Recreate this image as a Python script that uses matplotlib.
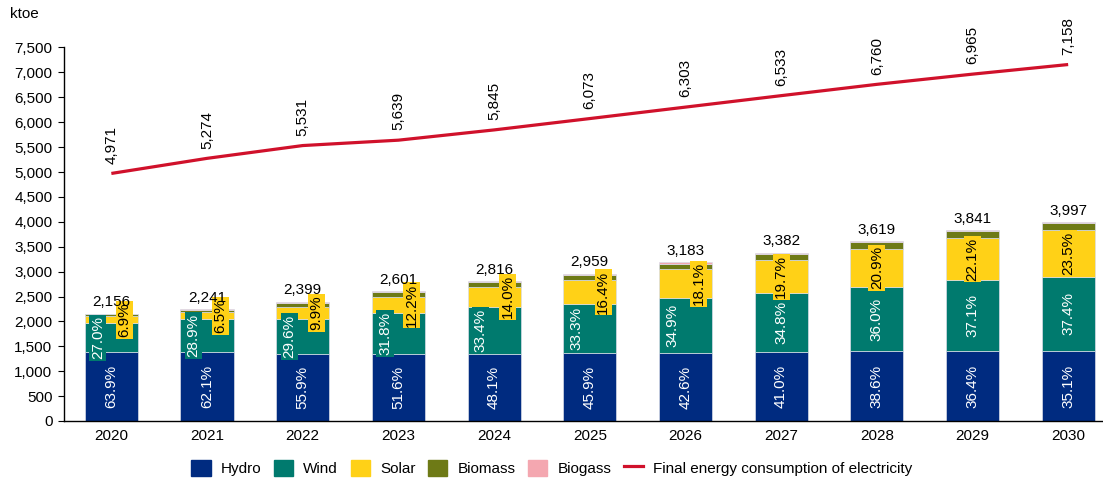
import numpy as np
import matplotlib.pyplot as plt
from matplotlib.patches import Patch
from matplotlib.lines import Line2D

plt.rcParams['font.family'] = ['Liberation Sans', 'DejaVu Sans']

# data (ktoe)
years = ["2020", "2021", "2022", "2023", "2024", "2025", "2026", "2027", "2028", "2029", "2030"]
hydro = [1378, 1392, 1341, 1342, 1354, 1358, 1356, 1387, 1397, 1398, 1403]
wind = [582, 648, 710, 827, 941, 985, 1111, 1177, 1303, 1425, 1495]
solar = [149, 146, 238, 317, 394, 485, 576, 666, 756, 849, 939]
biomass = [35, 40, 90, 95, 105, 108, 115, 125, 135, 140, 130]
biogas = [12, 15, 20, 20, 22, 23, 25, 27, 28, 29, 30]
totals = [2156, 2241, 2399, 2601, 2816, 2959, 3183, 3382, 3619, 3841, 3997]
hydro_pct = [63.9, 62.1, 55.9, 51.6, 48.1, 45.9, 42.6, 41.0, 38.6, 36.4, 35.1]
wind_pct = [27.0, 28.9, 29.6, 31.8, 33.4, 33.3, 34.9, 34.8, 36.0, 37.1, 37.4]
solar_pct = [6.9, 6.5, 9.9, 12.2, 14.0, 16.4, 18.1, 19.7, 20.9, 22.1, 23.5]
consumption = [4971, 5274, 5531, 5639, 5845, 6073, 6303, 6533, 6760, 6965, 7158]

c_hydro = "#002b80"
c_wind = "#007a6e"
c_solar = "#ffd117"
c_biomass = "#6e7a16"
c_biogas = "#f4a7b0"
c_line = "#d0112b"

fig = plt.figure(figsize=(11.03, 4.8), dpi=100)
ax = fig.add_axes([63.5 / 1103, 1 - 421 / 480, (1116 - 63.5) / 1103, (421 - 47.5) / 480])

x = np.arange(len(years))
w = 0.555
h = np.array(hydro)
wd = np.array(wind)
s = np.array(solar)
bm = np.array(biomass)
edge = dict(edgecolor="#d9dde8", linewidth=0.5)
ax.bar(x, h, w, color=c_hydro, **edge)
ax.bar(x, wd, w, bottom=h, color=c_wind, **edge)
ax.bar(x, s, w, bottom=h + wd, color=c_solar, **edge)
ax.bar(x, bm, w, bottom=h + wd + s, color=c_biomass, **edge)
ax.bar(x, biogas, w, bottom=h + wd + s + bm, color=c_biogas, **edge)
ax.plot(x, consumption, color=c_line, lw=2.3, solid_capstyle="butt")

fs = 11
for i in range(len(years)):
    # labels sit side by side while the bars are short
    off = 0.14 if i < 7 else 0.0
    ax.text(x[i], h[i] / 2, f"{hydro_pct[i]:.1f}%", rotation=90, ha="center", va="center",
            color="white", fontsize=fs)
    ax.text(x[i] - off, h[i] + wd[i] / 2, f"{wind_pct[i]:.1f}%", rotation=90, ha="center",
            va="center", color="white", fontsize=fs,
            bbox=dict(boxstyle="square,pad=0.1", fc=c_wind, ec="none"))
    ax.text(x[i] + off, h[i] + wd[i] + s[i] / 2, f"{solar_pct[i]:.1f}%", rotation=90, ha="center",
            va="center", color="black", fontsize=fs,
            bbox=dict(boxstyle="square,pad=0.1", fc=c_solar, ec="none"))
    ax.annotate(f"{totals[i]:,}", (x[i], totals[i]), xytext=(0, 3), textcoords="offset points",
                ha="center", va="bottom", fontsize=fs)
    ax.annotate(f"{consumption[i]:,}", (x[i], consumption[i]), xytext=(0, 7), textcoords="offset points",
                ha="center", va="bottom", rotation=90, fontsize=fs)

ax.set_xlim(-0.5, 10.5)
ax.set_ylim(0, 7500)
ax.set_yticks(np.arange(0, 7501, 500))
ax.set_yticklabels([f"{v:,}" for v in range(0, 7501, 500)])
ax.set_xticks(x)
ax.set_xticklabels(years)
ax.tick_params(axis="y", length=4, labelsize=fs, pad=4)
ax.tick_params(axis="x", length=0, labelsize=fs, pad=6)
for sp in ["top", "right"]:
    ax.spines[sp].set_visible(False)
ax.spines["left"].set_linewidth(1.0)
ax.spines["bottom"].set_linewidth(1.0)

fig.text(10 / 1103, 1 - 14 / 480, "ktoe", fontsize=fs, va="center", ha="left")

handles = [Patch(color=c_hydro), Patch(color=c_wind), Patch(color=c_solar),
           Patch(color=c_biomass), Patch(color=c_biogas), Line2D([], [], color=c_line, lw=2.3)]
labels = ["Hydro", "Wind", "Solar", "Biomass", "Biogass", "Final energy consumption of electricity"]
fig.legend(handles, labels, loc="center", bbox_to_anchor=(552 / 1103, 1 - 468 / 480), ncol=6,
           frameon=False, fontsize=fs, handlelength=1.25, handleheight=1.25, handletextpad=0.65,
           columnspacing=0.85)

fig.savefig("out.png", dpi=100)
